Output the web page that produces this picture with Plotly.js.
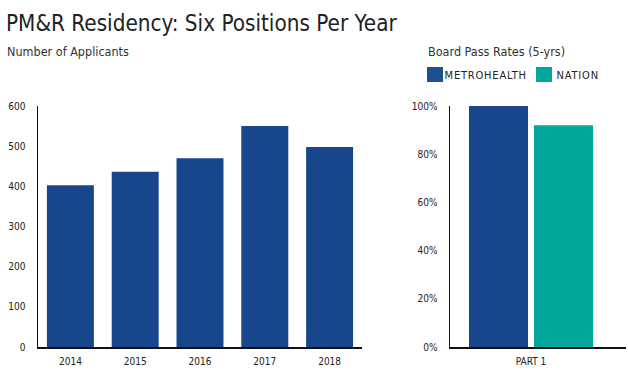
<!DOCTYPE html>
<html><head><meta charset="utf-8">
<script src="https://cdn.plot.ly/plotly-3.0.1.min.js"></script>
<style>
html,body{margin:0;padding:0;background:#fff;}
#chart{width:628px;height:372px;}
g.annotation[data-index="2"] text, g.annotation[data-index="3"] text{letter-spacing:0.8px;}
</style></head>
<body><div id="chart"></div>
<script>
const years = ['2014','2015','2016','2017','2018'];
const applicants = [403, 436, 470, 550, 498];
const passCategory = ['PART 1'];
const seriesNames = ['METROHEALTH','NATION'];
const metroRate = [100];
const nationRate = [92];
const yTicks = [0,100,200,300,400,500,600];
const pctTicks = [0,20,40,60,80,100];
const pctLabels = pctTicks.map(v => v + '%');

const FONT = 'DejaVu Sans Condensed, Liberation Sans Narrow, sans-serif';
const NAVY = '#18468C';
const TEAL = '#00A89C';

const data = [
  {type:'bar', x:years, y:applicants, xaxis:'x', yaxis:'y', marker:{color:NAVY}, showlegend:false},
  {type:'bar', name:seriesNames[0], x:passCategory, y:metroRate, xaxis:'x2', yaxis:'y2', marker:{color:NAVY}, width:0.3933, offset:-0.4133, showlegend:false},
  {type:'bar', name:seriesNames[1], x:passCategory, y:nationRate, xaxis:'x2', yaxis:'y2', marker:{color:TEAL}, width:0.3933, offset:0.02, showlegend:false}
];

const tickFont = {family:FONT, size:10, color:'#222'};
const axisBase = {showline:true, linecolor:'#111', linewidth:1.5, showgrid:false, zeroline:false, ticks:'',
                  tickfont:tickFont, fixedrange:true, automargin:false};
const layout = {
  width:628, height:372,
  margin:{l:0,r:0,t:0,b:0},
  paper_bgcolor:'#fff', plot_bgcolor:'#fff',
  font:{family:FONT, color:'#222'},
  bargap:0.275,
  showlegend:false,
  title:{text:'PM&R Residency: Six Positions Per Year', font:{family:FONT, size:22.3, color:'#222'},
         x:6/628, xanchor:'left', xref:'paper', y:1-23/372, yanchor:'middle', yref:'container', automargin:false},
  xaxis:Object.assign({}, axisBase, {domain:[38/628, 362/628], type:'category', range:[-0.5,4.5], ticklabelstandoff:4}),
  yaxis:Object.assign({}, axisBase, {domain:[25/372, 266/372], range:[0,600], tickvals:yTicks, ticklabelstandoff:9}),
  xaxis2:Object.assign({}, axisBase, {domain:[450/628, 626/628], anchor:'y2', type:'category', range:[-0.54,0.633], ticklabelstandoff:4}),
  yaxis2:Object.assign({}, axisBase, {domain:[25/372, 266/372], anchor:'x2', range:[0,100], tickvals:pctTicks, ticktext:pctLabels, ticklabelstandoff:9}),
  shapes:[
    {type:'rect', xref:'paper', yref:'paper', x0:427/628, x1:443/628, y0:1-82/372, y1:1-67/372, fillcolor:'#1B5190', line:{width:0}},
    {type:'rect', xref:'paper', yref:'paper', x0:536/628, x1:552/628, y0:1-82/372, y1:1-67/372, fillcolor:'#00A89C', line:{width:0}}
  ],
  annotations:[
    {text:'Number of Applicants', xref:'paper', yref:'paper', x:5/628, y:1-52/372, xanchor:'left', yanchor:'middle',
     showarrow:false, font:{family:FONT, size:12.5, color:'#333'}},
    {text:'Board Pass Rates (5-yrs)', xref:'paper', yref:'paper', x:426/628, y:1-52/372, xanchor:'left', yanchor:'middle',
     showarrow:false, font:{family:FONT, size:12.5, color:'#333'}},
    {text:seriesNames[0], xref:'paper', yref:'paper', x:447/628, y:1-75/372, xanchor:'left', yanchor:'middle',
     showarrow:false, font:{family:FONT, size:11, color:'#222'}},
    {text:seriesNames[1], xref:'paper', yref:'paper', x:557/628, y:1-75/372, xanchor:'left', yanchor:'middle',
     showarrow:false, font:{family:FONT, size:11, color:'#222'}}
  ]
};
Plotly.newPlot('chart', data, layout, {displayModeBar:false, staticPlot:true});
</script></body></html>
